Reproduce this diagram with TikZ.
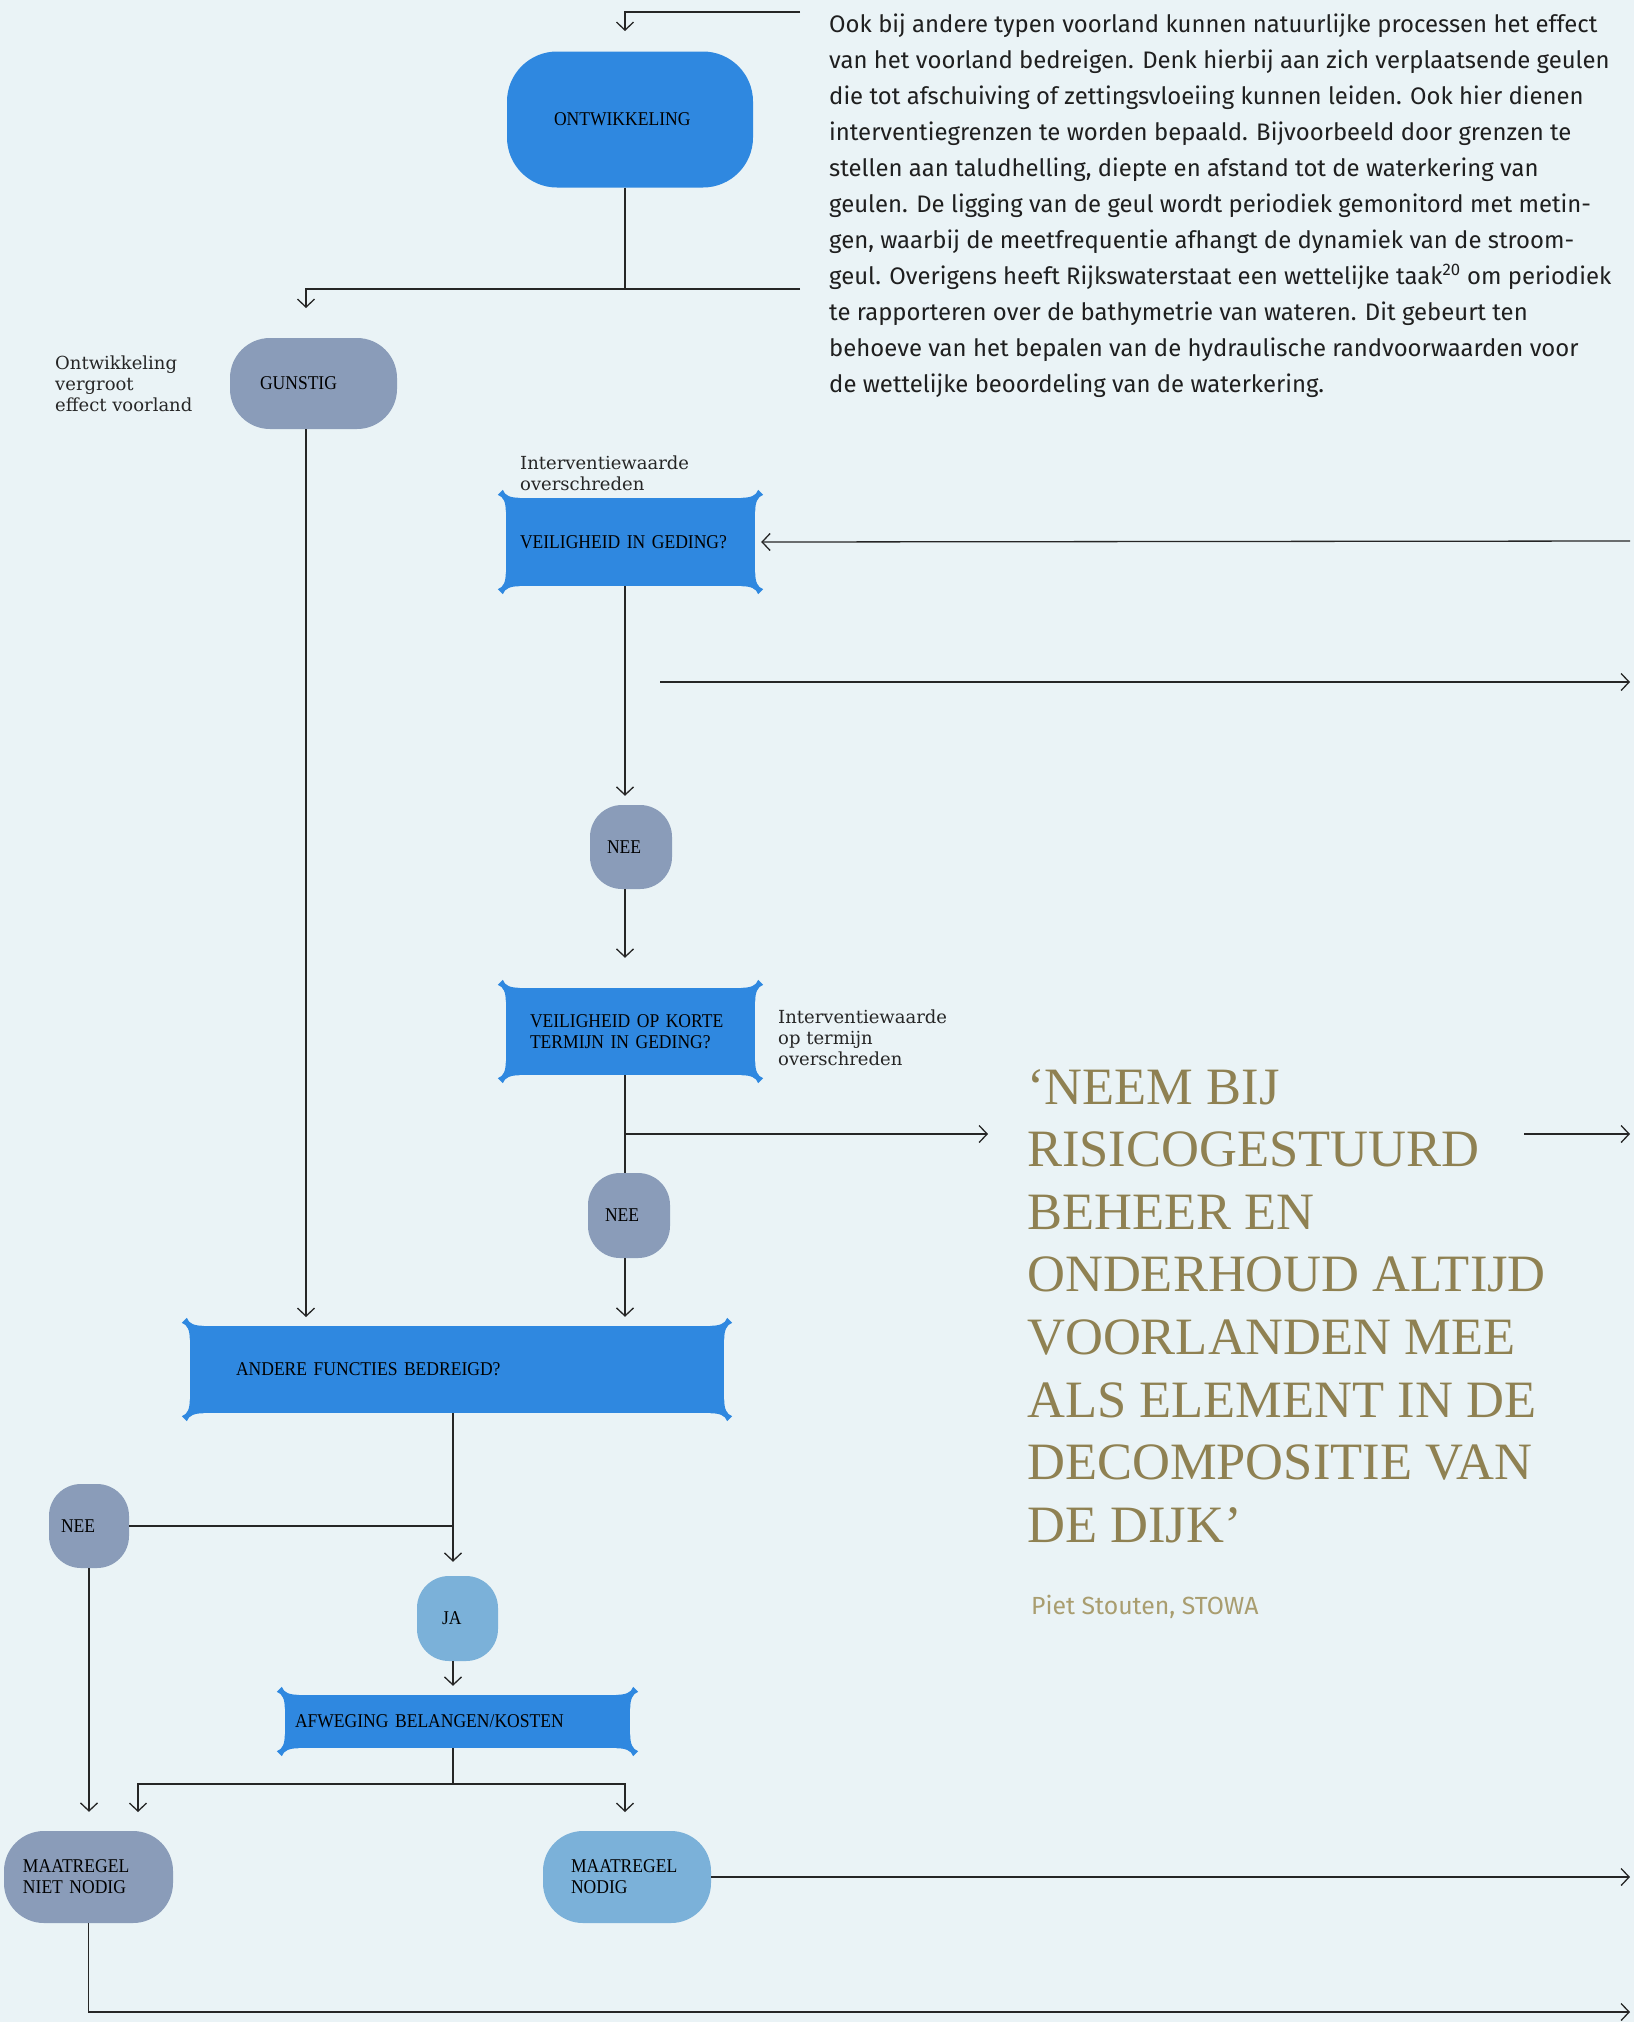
\documentclass[tikz,border=0pt]{standalone}
\usepackage{fontspec}
\usepackage{tikz}
\usetikzlibrary{arrows.meta,positioning,calc}
\newfontfamily\boxfont[FakeStretch=0.9]{Liberation Serif}
\newfontfamily\notefont{DejaVu Serif}
\newfontfamily\bodyfont{Fira Sans}
\newfontfamily\quotefont{Liberation Serif}
\definecolor{pagebg}{HTML}{EAF3F6}
\definecolor{flowblue}{HTML}{2F88E0}
\definecolor{flowslate}{HTML}{8A9CB9}
\definecolor{flowsky}{HTML}{7BB1D9}
\definecolor{flowline}{HTML}{262626}
\definecolor{quotegold}{HTML}{8F8152}
\definecolor{namegold}{HTML}{A99D6F}
\tikzset{
  roundbox/.style={
    rectangle,
    rounded corners=40pt,
    inner ysep=0pt,
    align=left,
    text=black,
    font=\boxfont\fontsize{19.5}{21}\selectfont
  },
  gatebox/.style={
    rectangle,
    fill=flowblue,
    inner ysep=0pt,
    align=left,
    text=black,
    font=\boxfont\fontsize{19.5}{21}\selectfont
  },
  note/.style={
    inner sep=0pt,
    align=left,
    text=black!85,
    font=\notefont\fontsize{18}{21}\selectfont
  },
  plain/.style={draw=flowline, line width=1.3pt},
  flow/.style={plain, -{Straight Barb[length=8pt,width=17pt]}}
}
% flared corners of the decision boxes
\newcommand{\gateears}[1]{%
  \foreach \c/\sx/\sy in {north west/-1/-1, north east/1/-1, south west/-1/1, south east/1/1}
    \fill[flowblue, shift={(#1.\c)}, xscale=\sx, yscale=\sy]
      (-14,0) .. controls (-5,0) and (1,2) .. (3,8) -- (8,3)
      .. controls (2,1) and (0,-5) .. (0,-14) -- (0,0) -- cycle;
}

\begin{document}
\begin{tikzpicture}[x=1pt, y=-1pt]
\useasboundingbox (0,0) rectangle (1634,2022);
\fill[pagebg] (0,0) rectangle (1634,2022);

% columns the connectors run along
\coordinate (col) at (625,0);
\coordinate (col2) at (453,0);

% states
\node[roundbox, fill=flowblue, rounded corners=50pt, minimum width=246pt, minimum height=136pt, inner xsep=47pt, text width=152pt] (ontw) at (630,119.5) {ONTWIKKELING};
\node[roundbox, fill=flowslate, minimum width=167pt, minimum height=91pt, inner xsep=30pt, text width=107pt] (gunstig) at (313.5,383.5) {GUNSTIG};
\node[roundbox, fill=flowslate, rounded corners=32pt, minimum width=82pt, minimum height=84pt, inner xsep=17pt, text width=48pt] (nee1) at (631,847) {NEE};
\node[roundbox, fill=flowslate, rounded corners=32pt, minimum width=82pt, minimum height=85pt, inner xsep=17pt, text width=48pt] (nee2) at (629,1215.5) {NEE};
\node[roundbox, fill=flowslate, rounded corners=32pt, minimum width=80pt, minimum height=84pt, inner xsep=12pt, text width=56pt] (nee3) at (89,1526) {NEE};
\node[roundbox, fill=flowsky, rounded corners=32pt, minimum width=81pt, minimum height=85pt, inner xsep=25pt, text width=31pt] (ja) at (457.5,1618.5) {JA};
\node[roundbox, fill=flowslate, minimum width=169pt, minimum height=92pt, inner xsep=19pt, text width=131pt] (nietnodig) at (88.5,1877) {MAATREGEL\\NIET NODIG};
\node[roundbox, fill=flowsky, minimum width=168pt, minimum height=92pt, inner xsep=28pt, text width=112pt] (nodig) at (627,1877) {MAATREGEL\\NODIG};

% decisions
\node[gatebox, minimum width=249pt, minimum height=88pt, inner xsep=14pt, text width=221pt] (veilig) at (630.5,542) {VEILIGHEID IN GEDING?};
\node[gatebox, minimum width=249pt, minimum height=87pt, inner xsep=24pt, text width=201pt] (korte) at (630.5,1031.5) {VEILIGHEID OP KORTE\\TERMIJN IN GEDING?};
\node[gatebox, minimum width=534pt, minimum height=87pt, inner xsep=46pt, text width=442pt] (andere) at (457,1369.5) {ANDERE FUNCTIES BEDREIGD?};
\node[gatebox, minimum width=345pt, minimum height=53pt, inner xsep=10pt, text width=325pt] (afweging) at (457.5,1721.5) {AFWEGING BELANGEN/KOSTEN};
\foreach \g in {veilig, korte, andere, afweging} {\gateears{\g}}

% side notes
\node[note, anchor=north west] (notegunstig) at (55,356) {Ontwikkeling\\vergroot\\effect voorland};
\node[note, anchor=north west] (noteveilig) at (520,456) {Interventiewaarde\\overschreden};
\node[note, anchor=north west] (notekorte) at (778,1010) {Interventiewaarde\\op termijn\\overschreden};

% free ends
\coordinate (entry) at (800,12);
\coordinate (entrytip) at (625,31);
\coordinate (feed) at (800,289);
\coordinate (split1) at (625,289);
\coordinate (gtip) at (306,308);
\coordinate (atip) at (306,1317);
\coordinate (vin) at (1630,541);
\coordinate (freea) at (660,682);
\coordinate (freeb) at (1630,682);
\coordinate (branch) at (625,1134);
\coordinate (qtip) at (988,1134);
\coordinate (qa) at (1524,1134);
\coordinate (qb) at (1630,1134);
\coordinate (split2) at (453,1784);
\coordinate (ntip) at (138,1812);
\coordinate (ytip) at (625,1812);
\coordinate (out1) at (1630,1877);
\coordinate (out2) at (1630,2012);

% connectors
\draw[flow] (entry) -| (entrytip);
\draw[plain] (ontw.south -| col) -- (split1);
\draw[flow] (feed) -| (gtip);
\draw[flow] (gunstig.south -| gtip) -- (atip);
\draw[flow] (vin) -- ([xshift=6pt]veilig.east);
\draw[flow, shorten >=9pt] (veilig.south -| col) -- (col |- nee1.north);
\draw[flow] (freea) -- (freeb);
\draw[flow, shorten >=30pt] (nee1.south -| col) -- (col |- korte.north);
\draw[plain] (korte.south -| col) -- (col |- nee2.north);
\draw[flow] (branch) -- (qtip);
\draw[flow] (qa) -- (qb);
\draw[flow, shorten >=9pt] (nee2.south -| col) -- (col |- andere.north);
\draw[flow, shorten >=14pt] (andere.south -| col2) -- (col2 |- ja.north);
\draw[plain] (nee3.east) -- (nee3.east -| col2);
\draw[flow, shorten >=9pt] (ja.south -| col2) -- (col2 |- afweging.north);
\draw[plain] (afweging.south -| col2) -- (split2);
\draw[flow] (split2) -| (ntip);
\draw[flow] (split2) -| (ytip);
\draw[flow, shorten >=19pt] (nee3.south) -- (nee3.south |- nietnodig.north);
\draw[flow] (nodig.east) -- (out1);
\draw[flow] (nietnodig.south) |- (out2);

% running text
\node[anchor=north west, inner sep=0pt, align=left, text=black!88, font=\bodyfont\fontsize{23.9}{36}\selectfont] (body) at (829,14) {Ook bij andere typen voorland kunnen natuurlijke processen het effect\\
van het voorland bedreigen. Denk hierbij aan zich verplaatsende geulen\\
die tot afschuiving of zettingsvloeiing kunnen leiden. Ook hier dienen\\
interventiegrenzen te worden bepaald. Bijvoorbeeld door grenzen te\\
stellen aan taludhelling, diepte en afstand tot de waterkering van\\
geulen. De ligging van de geul wordt periodiek gemonitord met metin-\\
gen, waarbij de meetfrequentie afhangt de dynamiek van de stroom-\\
geul. Overigens heeft Rijkswaterstaat een wettelijke taak\textsuperscript{20} om periodiek\\
te rapporteren over de bathymetrie van wateren. Dit gebeurt ten\\
behoeve van het bepalen van de hydraulische randvoorwaarden voor\\
de wettelijke beoordeling van de waterkering.};

% pull quote
\node[anchor=north west, inner sep=0pt, align=left, text=quotegold, font=\quotefont\fontsize{52.5}{62.6}\selectfont] (quote) at (1027,1069) {‘NEEM BIJ\\
RISICOGESTUURD\\
BEHEER EN\\
ONDERHOUD ALTIJD\\
VOORLANDEN MEE\\
ALS ELEMENT IN DE\\
DECOMPOSITIE VAN\\
DE DIJK’};
\node[anchor=base west, inner sep=0pt, text=namegold, font=\bodyfont\fontsize{24.8}{28}\selectfont] (source) at (1031,1614) {Piet Stouten, STOWA};
\end{tikzpicture}
\end{document}
